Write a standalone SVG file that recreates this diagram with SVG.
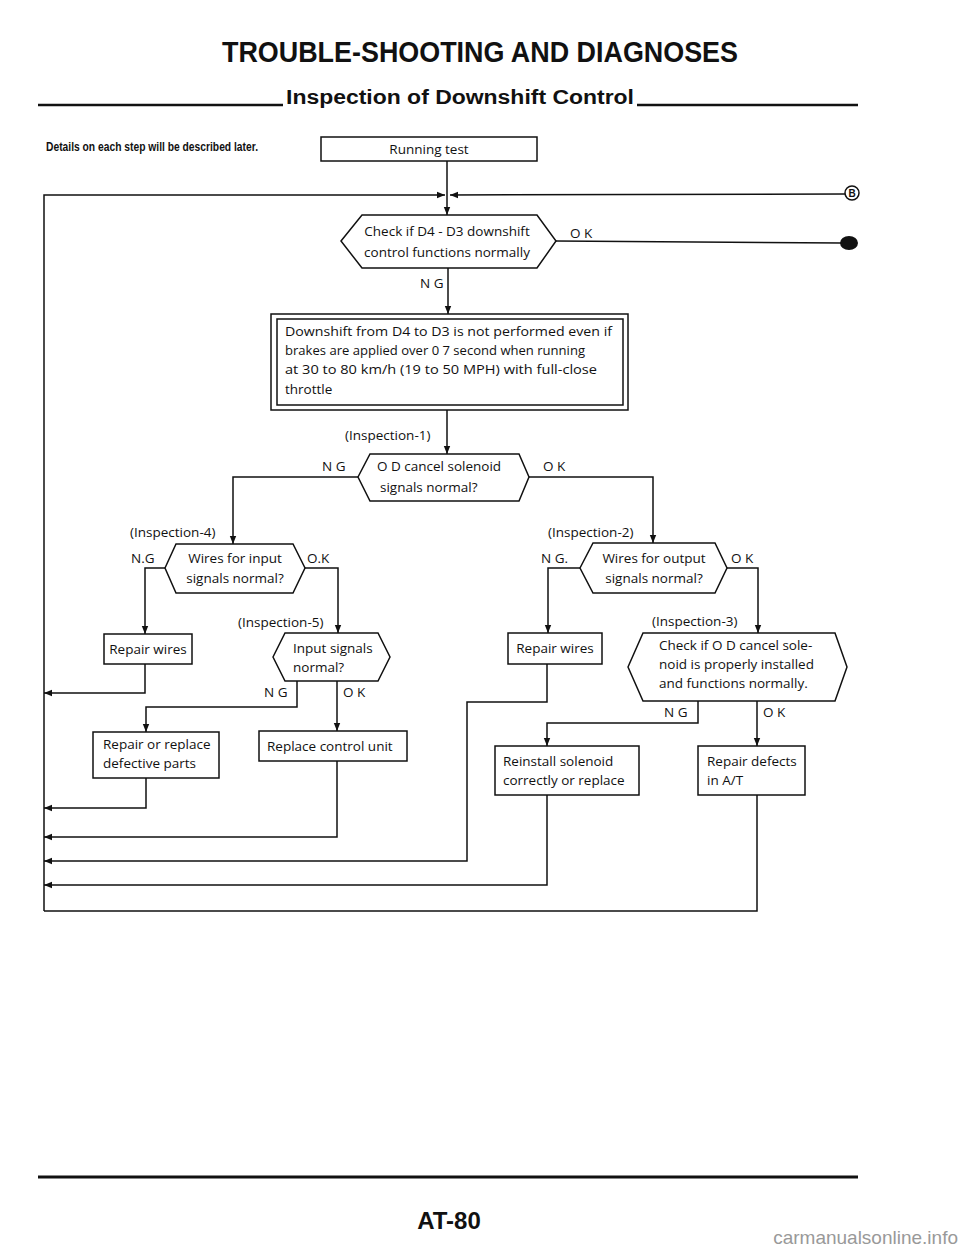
<svg xmlns="http://www.w3.org/2000/svg" width="960" height="1249" viewBox="0 0 960 1249">
<style>
.ln{stroke:#111;stroke-width:1.5;fill:none}
.bx{fill:#fff;stroke:#111;stroke-width:1.5}
.t{font-family:"Open Sans","Liberation Sans",sans-serif;font-size:13.5px;fill:#111}
.lb{font-family:"Open Sans","Liberation Sans",sans-serif;font-size:13.5px;fill:#111}
.hd{font-family:"Liberation Sans Narrow","Liberation Sans",sans-serif;font-weight:bold;fill:#111}
</style>
<defs>
<marker id="ah" viewBox="0 0 10 10" refX="10" refY="5" markerWidth="8" markerHeight="8" markerUnits="userSpaceOnUse" orient="auto"><path d="M0,1 L10,5 L0,9 z" fill="#111"/></marker>
</defs>
<rect width="960" height="1249" fill="#fff"/>
<g id="header">
<text class="hd" x="222" y="62" font-size="29" textLength="516" lengthAdjust="spacingAndGlyphs">TROUBLE-SHOOTING AND DIAGNOSES</text>
<line x1="38" y1="105" x2="283" y2="105" stroke="#111" stroke-width="2.5"/>
<line x1="637" y1="105" x2="858" y2="105" stroke="#111" stroke-width="2.5"/>
<text class="hd" x="286" y="104" font-size="20" textLength="348" lengthAdjust="spacingAndGlyphs">Inspection of Downshift Control</text>
<text class="hd" x="46" y="151" font-size="12" textLength="212" lengthAdjust="spacingAndGlyphs">Details on each step will be described later.</text>
</g>
<g id="connectors">
<polyline class="ln" points="44,911 44,195 445,195" marker-end="url(#ah)"/>
<line class="ln" x1="845" y1="194" x2="450" y2="195" marker-end="url(#ah)"/>
<line class="ln" x1="447" y1="161" x2="447" y2="215" marker-end="url(#ah)"/>
<line class="ln" x1="556" y1="241" x2="842" y2="243"/>
<line class="ln" x1="448" y1="268" x2="448" y2="314" marker-end="url(#ah)"/>
<line class="ln" x1="447" y1="410" x2="447" y2="454" marker-end="url(#ah)"/>
<polyline class="ln" points="358,477 233,477 233,544" marker-end="url(#ah)"/>
<polyline class="ln" points="529,477 653,477 653,543" marker-end="url(#ah)"/>
<polyline class="ln" points="165,568 145,568 145,634" marker-end="url(#ah)"/>
<polyline class="ln" points="145,664 145,693 44,693" marker-end="url(#ah)"/>
<polyline class="ln" points="305,568 338,568 338,633" marker-end="url(#ah)"/>
<polyline class="ln" points="297,681 297,707 146,707 146,732" marker-end="url(#ah)"/>
<line class="ln" x1="337" y1="681" x2="337" y2="731" marker-end="url(#ah)"/>
<polyline class="ln" points="146,778 146,808 44,808" marker-end="url(#ah)"/>
<polyline class="ln" points="337,761 337,837 44,837" marker-end="url(#ah)"/>
<polyline class="ln" points="580,568 548,568 548,633" marker-end="url(#ah)"/>
<polyline class="ln" points="727,568 758,568 758,633" marker-end="url(#ah)"/>
<polyline class="ln" points="547,664 547,702 467,702 467,861 44,861" marker-end="url(#ah)"/>
<polyline class="ln" points="698,701 698,723 547,723 547,746" marker-end="url(#ah)"/>
<line class="ln" x1="757" y1="701" x2="757" y2="746" marker-end="url(#ah)"/>
<polyline class="ln" points="547,795 547,885 44,885" marker-end="url(#ah)"/>
<polyline class="ln" points="757,795 757,911 44,911"/>
</g>
<g id="running-test">
<rect class="bx" x="321" y="137" width="216" height="24"/>
<text class="t" x="429" y="154" text-anchor="middle">Running test</text>
</g>
<g id="terminal-b">
<circle cx="852" cy="193" r="7" fill="#fff" stroke="#111" stroke-width="1.5"/>
<text x="852" y="197" text-anchor="middle" font-family="Liberation Sans,sans-serif" font-weight="bold" font-size="10" fill="#111">B</text>
</g>
<g id="terminal-dot">
<ellipse cx="849" cy="243" rx="9" ry="7" fill="#111"/>
</g>
<g id="check-d4-d3">
<polygon class="bx" points="341,241 362,215 537,215 556,241 537,268 362,268"/>
<text class="t" x="447" y="236" text-anchor="middle">Check if D4 - D3 downshift</text>
<text class="t" x="447" y="257" text-anchor="middle">control functions normally</text>
<text class="lb" x="570" y="238">O K</text>
<text class="lb" x="420" y="288">N G</text>
</g>
<g id="symptom">
<rect class="bx" x="271" y="314" width="357" height="96"/>
<rect class="bx" x="277" y="319" width="346" height="86"/>
<text class="t" x="285" y="336" textLength="327" lengthAdjust="spacingAndGlyphs">Downshift from D4 to D3 is not performed even if</text>
<text class="t" x="285" y="355" textLength="300" lengthAdjust="spacingAndGlyphs">brakes are applied over 0 7 second when running</text>
<text class="t" x="285" y="374" textLength="312" lengthAdjust="spacingAndGlyphs">at 30 to 80 km/h (19 to 50 MPH) with full-close</text>
<text class="t" x="285" y="394">throttle</text>
</g>
<g id="inspection-1">
<text class="lb" x="345" y="440">(Inspection-1)</text>
<polygon class="bx" points="358,477 370,454 519,454 529,477 519,501 370,501"/>
<text class="t" x="377" y="471">O D  cancel solenoid</text>
<text class="t" x="380" y="492">signals normal?</text>
<text class="lb" x="322" y="471">N G</text>
<text class="lb" x="543" y="471">O K</text>
</g>
<g id="inspection-4">
<text class="lb" x="130" y="537">(Inspection-4)</text>
<polygon class="bx" points="165,568 176,544 293,544 305,568 293,593 176,593"/>
<text class="t" x="235" y="563" text-anchor="middle">Wires for input</text>
<text class="t" x="235" y="583" text-anchor="middle">signals normal?</text>
<text class="lb" x="131" y="563">N.G</text>
<text class="lb" x="307" y="563">O.K</text>
</g>
<g id="repair-wires-1">
<rect class="bx" x="104" y="634" width="88" height="30"/>
<text class="t" x="148" y="654" text-anchor="middle">Repair wires</text>
</g>
<g id="inspection-5">
<text class="lb" x="238" y="627">(Inspection-5)</text>
<polygon class="bx" points="273,657 285,633 378,633 390,657 378,681 285,681"/>
<text class="t" x="293" y="653">Input signals</text>
<text class="t" x="293" y="672">normal?</text>
<text class="lb" x="264" y="697">N G</text>
<text class="lb" x="343" y="697">O K</text>
</g>
<g id="repair-replace">
<rect class="bx" x="93" y="732" width="126" height="46"/>
<text class="t" x="103" y="749">Repair or replace</text>
<text class="t" x="103" y="768">defective parts</text>
</g>
<g id="replace-unit">
<rect class="bx" x="259" y="731" width="148" height="30"/>
<text class="t" x="267" y="751">Replace control unit</text>
</g>
<g id="inspection-2">
<text class="lb" x="548" y="537">(Inspection-2)</text>
<polygon class="bx" points="580,568 593,543 715,543 727,568 715,593 593,593"/>
<text class="t" x="654" y="563" text-anchor="middle">Wires for output</text>
<text class="t" x="654" y="583" text-anchor="middle">signals normal?</text>
<text class="lb" x="541" y="563">N G.</text>
<text class="lb" x="731" y="563">O K</text>
</g>
<g id="repair-wires-2">
<rect class="bx" x="508" y="633" width="94" height="31"/>
<text class="t" x="555" y="653" text-anchor="middle">Repair wires</text>
</g>
<g id="inspection-3">
<text class="lb" x="652" y="626">(Inspection-3)</text>
<polygon class="bx" points="628,667 643,633 835,633 847,667 835,701 643,701"/>
<text class="t" x="659" y="650">Check if O D  cancel sole-</text>
<text class="t" x="659" y="669">noid is properly installed</text>
<text class="t" x="659" y="688">and functions normally.</text>
<text class="lb" x="664" y="717">N G</text>
<text class="lb" x="763" y="717">O K</text>
</g>
<g id="reinstall">
<rect class="bx" x="495" y="746" width="144" height="49"/>
<text class="t" x="503" y="766">Reinstall solenoid</text>
<text class="t" x="503" y="785">correctly or replace</text>
</g>
<g id="repair-defects">
<rect class="bx" x="698" y="746" width="107" height="49"/>
<text class="t" x="707" y="766">Repair defects</text>
<text class="t" x="707" y="785">in A/T</text>
</g>
<g id="footer">
<line x1="38" y1="1177" x2="858" y2="1177" stroke="#111" stroke-width="3"/>
<text class="hd" x="449" y="1229" font-size="24" text-anchor="middle">AT-80</text>
<text x="958" y="1244" text-anchor="end" font-family="Liberation Sans Narrow,Liberation Sans,sans-serif" font-size="19" fill="#999">carmanualsonline.info</text>
</g>
</svg>
